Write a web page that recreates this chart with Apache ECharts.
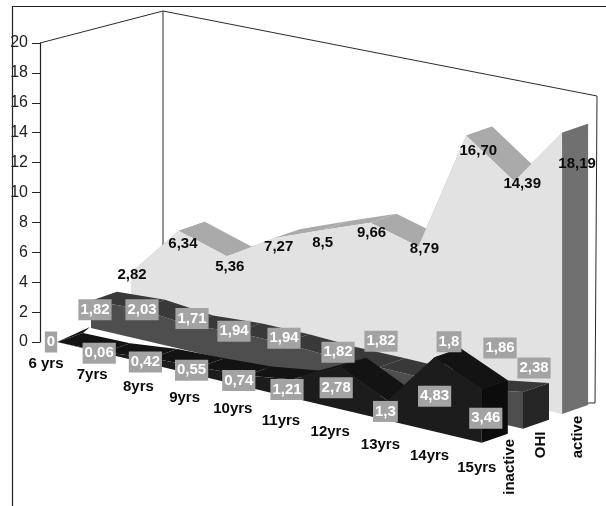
<!DOCTYPE html>
<html>
<head>
<meta charset="utf-8">
<style>html,body{margin:0;padding:0;background:#fff}#c{width:606px;height:506px}</style>
<script src="https://cdn.jsdelivr.net/npm/echarts@6/dist/echarts.min.js"></script>
</head>
<body>
<div id="c"></div>
<script>
// ---- data ----
const categories = ['6 yrs','7yrs','8yrs','9yrs','10yrs','11yrs','12yrs','13yrs','14yrs','15yrs'];
const seriesNames = ['inactive','OHI','active'];
const inactive = [0,0.06,0.42,0.55,0.74,1.21,2.78,1.3,4.83,3.46];
const ohi = [1.82,2.03,1.71,1.94,1.94,1.82,1.82,1.8,1.86,2.38];
const active = [2.82,6.34,5.36,7.27,8.5,9.66,8.79,16.70,14.39,18.19];
const inactiveText = ['0','0,06','0,42','0,55','0,74','1,21','2,78','1,3','4,83','3,46'];
const ohiText = ['1,82','2,03','1,71','1,94','1,94','1,82','1,82','1,8','1,86','2,38'];
const activeText = ['2,82','6,34','5,36','7,27','8,5','9,66','8,79','16,70','14,39','18,19'];

// ---- oblique 3D projection of the library's cartesian coordinates ----
const bandDX = [0,34,74], bandSkew = [-0.2,0.6,0.5], bandDY = [0,14,27], bandSlope = [11.2,11.2,11];
const bandDepth = [26,-9], growth = 0.0037, axisGap = 17, startSliver = [33,-15];
function project(api,d,i,v,back){
  const c = api.coord([i,v]), b = api.coord([i,0]);
  const h = (b[1]-c[1])*(1+growth*(i+0.36));
  return [
    b[0]+bandDX[d]+i*bandSkew[d]+(back?bandDepth[0]:0),
    b[1]+i*bandSlope[d]-bandDY[d]-h+(back?bandDepth[1]:0)
  ];
}

// ---- styles ----
const faces = [
  {front:'#1c1c1c',top:'#131313',side:'#0c0c0c'},
  {front:'#4e4e4e',top:'#393939',side:'#262626'},
  {front:'#e2e2e2',top:'#aaaaaa',side:'#707070'}
];
const textDark = '#0a0a0a';
const labelFont = 'bold 15px "Liberation Sans",Arial,sans-serif';
const labelNudge = [
  [[-6,0],[-5,1],[-6,4],[-7,3],[-7,5],[-6,10],[-4,21],[-2,11],[0,39],[4,29]],
  [[4,9],[3,1],[5,-6],[-1,-1],[1,-5],[7,-4],[2,-26],[22,-37],[25,-41],[11,-24]],
  [[1,2],[4,13],[3,11],[4,9],[0,13],[1,10],[6,2],[12,15],[8,3],[15,31]]
];
const catNudge = [[-11,22],[-12,22],[-13,22],[-14,22],[-13,22],[-12,23],[-10,23],[-7,24],[-5,24],[-5,25]];
const nameNudge = [[28,24],[18,16],[16,23]];

function poly(points,fill,z2){
  return {type:'polygon',shape:{points},z2,style:{fill}};
}

function bandSeries(d,values){
  return {
    type:'custom', name:seriesNames[d], silent:true,
    data:values.map((v,i)=>[i,v]),
    encode:{x:0,y:1},
    renderItem(params,api){
      const i = params.dataIndex, v = values[i], f = faces[d], base = (3-d)*10, kids = [];
      if(i===0){
        const pts = [project(api,d,0,0,false)];
        values.forEach((w,k)=>pts.push(project(api,d,k,w,false)));
        pts.push(project(api,d,values.length-1,0,false));
        kids.push(poly(pts,f.front,base+1));
        if(d===0){
          const s = project(api,d,0,v,false), e = project(api,d,0,v,true);
          kids.push(poly([s,[s[0]+startSliver[0],s[1]+startSliver[1]],e],f.top,base));
        }
      }
      if(i<values.length-1){
        const w = values[i+1];
        const a=project(api,d,i,v,false), b=project(api,d,i+1,w,false);
        const a2=project(api,d,i,v,true), b2=project(api,d,i+1,w,true);
        kids.push(poly([a,b,b2,a2],f.top,base));
      } else {
        const a=project(api,d,i,v,false), a2=project(api,d,i,v,true);
        const a0=project(api,d,i,0,false), a3=project(api,d,i,0,true);
        kids.push(poly([a0,a,a2,a3],f.side,base+2));
      }
      return {type:'group',children:kids};
    }
  };
}

function labelSeries(d,values,texts){
  const dark = d===2;
  return {
    type:'custom', silent:true,
    data:values.map((v,i)=>[i,v]),
    encode:{x:0,y:1},
    renderItem(params,api){
      const i = params.dataIndex, p = project(api,d,i,values[i],false), n = labelNudge[d][i];
      return {type:'text',z2:100,style:{
        x:p[0]+n[0],y:p[1]+n[1],text:texts[i],align:'center',verticalAlign:'middle',
        font:labelFont,fill:dark?textDark:'#fff',
        backgroundColor:dark?'transparent':'#a3a3a3',padding:dark?0:[3,2,3,2]
      }};
    }
  };
}

const categorySeries = {
  type:'custom', silent:true,
  data:categories.map((c,i)=>[i,0]),
  encode:{x:0,y:1},
  renderItem(params,api){
    const i = params.dataIndex, p = project(api,0,i,0,false), n = catNudge[i];
    return {type:'text',z2:100,style:{x:p[0]+n[0],y:p[1]+n[1],text:categories[i],align:'center',
      verticalAlign:'middle',font:labelFont,fill:textDark}};
  }
};

const nameSeries = {
  type:'custom', silent:true,
  data:seriesNames.map((c,i)=>[9,0]),
  encode:{x:0,y:1},
  renderItem(params,api){
    const d = params.dataIndex, p = project(api,d,9,0,false), n = nameNudge[d];
    return {type:'text',z2:100,x:p[0]+n[0],y:p[1]+n[1],rotation:Math.PI/2,style:{x:0,y:0,text:seriesNames[d],
      align:'center',verticalAlign:'middle',font:labelFont,fill:textDark}};
  }
};

// ---- back walls of the 3D box ----
const wallSeries = {
  type:'custom', silent:true,
  data:[[0,20]],
  encode:{x:0,y:1},
  renderItem(params,api){
    const t = api.coord([0,20]);
    const ax = [t[0]-axisGap,t[1]];
    const corner = [ax[0]+123,ax[1]-32];
    const right = [corner[0]+434,corner[1]+85];
    const rightLow = [right[0]-2,right[1]+307];
    const stroke = {stroke:'#2b2b2b',lineWidth:1,fill:null};
    return {type:'group',children:[
      {type:'polyline',z2:1,shape:{points:[ax,corner,right,rightLow,[rightLow[0]-7,rightLow[1]]]},style:stroke},
      {type:'polyline',z2:1,shape:{points:[corner,[corner[0],corner[1]+299]]},style:stroke}
    ]};
  }
};

const chart = echarts.init(document.getElementById('c'),null,{renderer:'canvas'});
chart.setOption({
  animation:false,
  backgroundColor:'#fff',
  grid:{left:57,top:43,width:426.6,height:299,containLabel:false},
  xAxis:{type:'category',data:categories,boundaryGap:false,show:false},
  yAxis:{type:'value',min:0,max:20,interval:2,offset:axisGap,
    axisLine:{show:true,lineStyle:{color:'#222',width:1.2}},
    axisTick:{show:true,length:8,lineStyle:{color:'#222'}},
    splitLine:{show:false},
    axisLabel:{margin:12,color:'#222',fontSize:16,fontFamily:'"Liberation Sans",Arial,sans-serif'}},
  graphic:[
    {type:'polyline',z:50,silent:true,shape:{points:[[12.5,506],[12.5,6.5],[606,6.5]]},style:{stroke:'#222',lineWidth:1.2,fill:null}}
  ],
  series:[
    wallSeries,
    bandSeries(2,active),
    bandSeries(1,ohi),
    bandSeries(0,inactive),
    labelSeries(2,active,activeText),
    labelSeries(1,ohi,ohiText),
    labelSeries(0,inactive,inactiveText),
    categorySeries,
    nameSeries
  ]
});
</script>
</body>
</html>
